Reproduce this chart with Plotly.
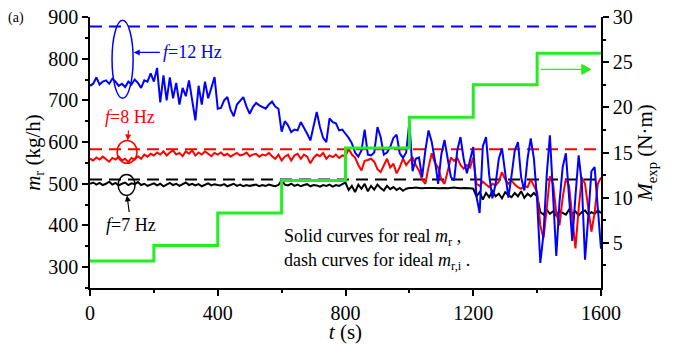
import plotly.graph_objects as go

# Time axis (s), sampled every 10 s
t = list(range(0, 1601, 10))

# Real mass flow rate m_r (kg/h) at three pump frequencies
m_12hz = [
    735, 740, 755, 738, 745, 748, 740, 752, 745, 735, 740, 732, 745, 738, 750, 742, 730, 748, 745, 765, 745,
    778, 695, 760, 700, 755, 705, 742, 690, 730, 710, 748, 700, 652, 735, 690, 745, 705, 730, 756, 680,
    682, 700, 708, 678, 662, 690, 700, 708, 685, 668, 684, 694, 688, 684, 680, 690, 697, 685, 680, 625,
    650, 640, 624, 630, 628, 648, 635, 620, 604, 640, 672, 636, 610, 600, 657, 648, 645, 628, 630, 620,
    610, 597, 575, 565, 580, 630, 570, 568, 575, 636, 612, 570, 575, 588, 610, 618, 573, 562, 575, 648,
    530, 560, 563, 516, 580, 628, 600, 556, 500, 570, 605, 560, 516, 508, 580, 612, 560, 525, 560, 588,
    470, 430, 590, 612, 520, 465, 500, 560, 585, 530, 467, 520, 580, 600, 515, 484, 560, 609, 560, 460,
    310, 380, 520, 616, 470, 327, 455, 540, 573, 470, 363, 470, 568, 500, 318, 420, 530, 540, 450, 344,
]
m_8hz = [
    560, 556, 563, 558, 565, 560, 553, 562, 558, 565, 556, 560, 552, 562, 558, 566, 560, 570, 565, 572, 568,
    575, 570, 578, 568, 575, 580, 570, 574, 566, 578, 572, 580, 568, 575, 570, 578, 572, 566, 574, 570,
    575, 568, 572, 565, 570, 574, 568, 570, 575, 566, 570, 572, 565, 570, 568, 574, 566, 560, 570, 556,
    565, 570, 556, 568, 572, 560, 570, 565, 549, 562, 570, 566, 574, 560, 568, 564, 570, 562, 568, 566,
    584, 570, 563, 545, 532, 555, 557, 560, 553, 535, 528, 545, 560, 539, 548, 525, 540, 560, 545, 555,
    563, 545, 532, 510, 500, 540, 573, 550, 539, 510, 500, 530, 563, 555, 562, 545, 536, 545, 539, 563,
    500, 495, 505, 498, 492, 500, 496, 505, 528, 510, 500, 508, 498, 492, 488, 495, 492, 510, 495, 480,
    400, 370, 440, 518, 500, 430, 400, 467, 512, 495, 420, 345, 440, 515, 500, 440, 385, 430, 500, 515,
]
m_7hz = [
    500, 503, 498, 502, 497, 500, 505, 498, 502, 496, 500, 503, 497, 501, 499, 504, 497, 500, 495, 498, 501,
    496, 500, 494, 498, 502, 497, 500, 495, 499, 503, 497, 500, 496, 499, 494, 498, 501, 496, 499, 497,
    496, 499, 494, 497, 500, 495, 498, 494, 497, 495, 496, 498, 494, 497, 495, 498, 496, 494, 497, 508,
    498, 496, 500, 495, 498, 494, 497, 499, 494, 497, 496, 493, 497, 495, 498, 493, 497, 495, 499, 503,
    485, 495, 480, 498, 488, 500, 482, 495, 486, 498, 490, 484, 495, 487, 492, 485, 490, 483, 488, 490,
    490, 491, 490, 489, 490, 490, 491, 490, 489, 490, 490, 489, 490, 491, 490, 489, 490, 490, 489, 488,
    470, 480, 462, 478, 468, 482, 470, 476, 465, 480, 472, 468, 478, 470, 482, 466, 476, 470, 478, 470,
    432, 426, 438, 428, 434, 424, 436, 430, 426, 438, 428, 434, 424, 432, 436, 426, 432, 428, 436, 430,
]

# Ideal mass flow rate m_r,i (kg/h)
ideal_12hz = 877
ideal_8hz = 583
ideal_7hz = 510

# Expansion torque M_exp (N·m) held for 200 s at each level
step_starts = [0, 200, 400, 600, 800, 1000, 1200, 1400]
torque_levels = [3.0, 4.7, 8.3, 11.9, 15.5, 18.9, 22.5, 26.0]

# x/y pairs for the staircase
step_x, step_y = [], []
for i, (s, v) in enumerate(zip(step_starts, torque_levels)):
    end = step_starts[i + 1] if i + 1 < len(step_starts) else 1600
    step_x += [s, end]
    step_y += [v, v]

SERIF = "Liberation Serif"
BLUE, RED, BLACK, GREEN = "#0000ff", "#ff0000", "#000000", "#22ee22"

fig = go.Figure()

# dashed ideal lines
for val, col in [(ideal_7hz, BLACK), (ideal_8hz, RED), (ideal_12hz, BLUE)]:
    fig.add_trace(go.Scatter(x=[0, 1600], y=[val, val], mode="lines",
                             line=dict(color=col, width=2, dash="12px,7px"),
                             showlegend=False, hoverinfo="skip"))

# real flow curves
for ys, col in [(m_7hz, BLACK), (m_8hz, RED), (m_12hz, BLUE)]:
    fig.add_trace(go.Scatter(x=t, y=ys, mode="lines",
                             line=dict(color=col, width=2),
                             showlegend=False))

# torque staircase on the right axis
fig.add_trace(go.Scatter(x=step_x, y=step_y, mode="lines", yaxis="y2",
                         line=dict(color=GREEN, width=3),
                         showlegend=False))

axis_common = dict(showline=True, linecolor="black", linewidth=1.5,
                   ticks="outside", ticklen=6, tickwidth=1.5, tickcolor="black",
                   showgrid=False, zeroline=False, automargin=False,
                   tickfont=dict(family=SERIF, size=20, color="black"))

fig.update_layout(
    width=677, height=344,
    margin=dict(l=90, r=76, t=17, b=56),
    paper_bgcolor="white", plot_bgcolor="white",
    font=dict(family=SERIF, color="black"),
    xaxis=dict(range=[0, 1600], tickvals=[0, 400, 800, 1200, 1600],
               minor=dict(tickvals=[200, 600, 1000, 1400], ticklen=3, tickwidth=1.5,
                          tickcolor="black", ticks="outside"),
               title=dict(text="<i>t</i> (s)", font=dict(family=SERIF, size=21, color="black"),
                          standoff=4),
               **axis_common),
    yaxis=dict(range=[250, 900], tickvals=[300, 400, 500, 600, 700, 800, 900],
               minor=dict(tickvals=[250, 350, 450, 550, 650, 750, 850], ticklen=3,
                          tickwidth=1.5, tickcolor="black", ticks="outside"),
               title=dict(text="<i>m</i><sub>r</sub> (kg/h)",
                          font=dict(family=SERIF, size=21, color="black"), standoff=2),
               **axis_common),
    yaxis2=dict(range=[0, 30], overlaying="y", side="right",
                tickvals=[5, 10, 15, 20, 25, 30],
                minor=dict(tickvals=[2.5, 7.5, 12.5, 17.5, 22.5, 27.5], ticklen=3,
                           tickwidth=1.5, tickcolor="black", ticks="outside"),
                title=dict(text="<i>M</i><sub>exp</sub> (N·m)",
                           font=dict(family=SERIF, size=21, color="black"), standoff=6),
                **axis_common),
)

# circles marking each frequency group
fig.add_shape(type="circle", xref="x", yref="y", x0=69, x1=135, y0=705, y1=892,
              line=dict(color=BLUE, width=1.5))
fig.add_shape(type="circle", xref="x", yref="y", x0=85, x1=147, y0=549, y1=604,
              line=dict(color=RED, width=1.5))
fig.add_shape(type="circle", xref="x", yref="y", x0=88, x1=141, y0=472, y1=522,
              line=dict(color=BLACK, width=1.5))


def tagged(text, tx, ty, hx, hy, col):
    """Label centred at (tx, ty) with an arrow pointing to (hx, hy)."""
    fig.add_annotation(x=hx, y=hy, ax=tx, ay=ty, xref="x", yref="y",
                       axref="x", ayref="y", text=text, showarrow=True,
                       arrowhead=2, arrowsize=1, arrowwidth=1.2, arrowcolor=col,
                       standoff=0, startstandoff=2,
                       font=dict(family=SERIF, size=18, color=col))


def label(x, y, text, col, size=18):
    fig.add_annotation(x=x, y=y, xref="x", yref="y", text=text, showarrow=False,
                       xanchor="left", yanchor="middle",
                       font=dict(family=SERIF, size=size, color=col))


tagged("<i>f</i>=12 Hz", 322, 815, 137, 815, BLUE)
tagged("<i>f</i>=8 Hz", 124, 660, 118, 604, RED)
tagged("<i>f</i>=7 Hz", 128, 400, 116, 472, BLACK)

# arrow pointing the staircase to the right-hand axis
fig.add_shape(type="line", xref="x", yref="y2", x0=1412, x1=1545, y0=24.2, y1=24.2,
              line=dict(color=GREEN, width=1.2))
fig.add_shape(type="path", xref="x", yref="y2",
              path="M 1568 24.2 L 1540 24.75 L 1540 23.65 Z",
              fillcolor=GREEN, line=dict(color=GREEN, width=1))

label(600, 370, "Solid curves for real <i>m</i><sub>r</sub> ,", BLACK)
label(600, 314, "dash curves for ideal <i>m</i><sub>r,i</sub> .", BLACK)

fig.add_annotation(x=-0.164, y=0.996, xref="paper", yref="paper", text="(a)", showarrow=False,
                   xanchor="left", yanchor="middle",
                   font=dict(family=SERIF, size=14, color="black"))

fig.write_html("out.html")
